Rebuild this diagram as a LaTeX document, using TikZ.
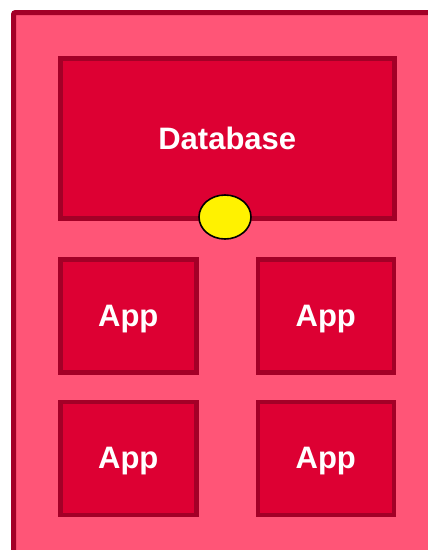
\documentclass[tikz,border=0pt]{standalone}
\usepackage{fontspec}
\setmainfont{Liberation Sans}
\usetikzlibrary{shapes.geometric}

\definecolor{hostfill}{HTML}{FF5577}
\definecolor{hostline}{HTML}{A30027}
\definecolor{boxfill}{HTML}{DD0033}
\definecolor{boxline}{HTML}{A30027}

\tikzset{
  box/.style={draw=boxline, fill=boxfill, line width=4.5pt, inner sep=0pt,
    anchor=north west, text=white, text depth=0pt,
    font=\fontsize{31}{36}\selectfont\bfseries},
  appbox/.style={box, minimum width=136pt, minimum height=113pt},
  port/.style={ellipse, draw=black, fill=yellow, line width=1.6pt,
    minimum width=52pt, minimum height=44pt, inner sep=0pt}
}

\begin{document}
\begin{tikzpicture}[x=1pt,y=-1pt]
\clip (0,0) rectangle (428,550);
\useasboundingbox (0,0) rectangle (428,550);

% host frame
\draw[draw=hostline, fill=hostfill, line width=5pt, rounded corners=2pt]
  (13.5,12.5) rectangle (440,570);

% database and apps
\node[box, minimum width=334pt, minimum height=160pt] (db) at (58,56) {Database};
\node[appbox] (app1) at (58,257) {App};
\node[appbox] (app2) at (255.5,257) {App};
\node[appbox] (app3) at (58,399.5) {App};
\node[appbox] (app4) at (255.5,399.5) {App};

% port on the database
\node[port] (dbport) at (225,217) {};
\end{tikzpicture}
\end{document}
